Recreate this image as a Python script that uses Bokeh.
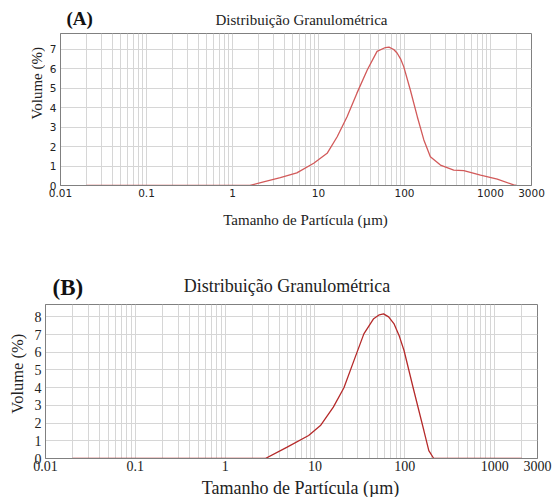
import math
from bokeh.plotting import figure
from bokeh.layouts import column, row
from bokeh.models import Range1d, FixedTicker, Label
from bokeh.embed import file_html
from bokeh.resources import INLINE

# Particle size distribution, sample A (size in µm, volume in %)
size_a = [0.02, 1.6, 2.3, 3.6, 5.6, 8.8, 12.6, 16.5, 21.5, 28, 37, 48, 60, 66,
          75, 82, 90, 98, 117, 141, 168, 200, 262, 374, 490, 766, 1200, 1860, 2000]
vol_a = [0, 0, 0.19, 0.4, 0.65, 1.14, 1.65, 2.5, 3.53, 4.74, 5.94, 6.88, 7.08, 7.1,
         6.98, 6.8, 6.5, 6.1, 4.9, 3.53, 2.34, 1.48, 1.05, 0.79, 0.76, 0.53, 0.33,
         0.03, 0]

# Particle size distribution, sample B
size_b = [0.02, 2.8, 4.9, 8.5, 11.5, 16, 21, 27, 35, 45, 52, 58, 66, 76, 87, 98,
          126, 163, 185, 210, 2000]
vol_b = [0, 0, 0.64, 1.3, 1.86, 2.9, 4.0, 5.5, 7.04, 7.9, 8.12, 8.17, 8.0, 7.6,
         6.9, 6.1, 3.84, 1.58, 0.45, 0, 0]

x_ticks = [0.01, 0.1, 1, 10, 100, 1000, 3000]
x_tick_labels = ["0.01", "0.1", "1", "10", "100", "1000", "3000"]
x_minor = [m * 10.0 ** e for e in range(-2, 3) for m in range(2, 10)] + [2000]

title_text = "Distribuição Granulométrica"
x_title = "Tamanho de Partícula (µm)"
y_title = "Volume (%)"

SERIF = "Liberation Serif"
GRID = "#d6d6d6"
FRAME = "#808080"


def text_strip(width, height, items):
    """A blank strip whose frame is the whole canvas, holding free text."""
    p = figure(width=width, height=height, x_range=Range1d(0, width),
               y_range=Range1d(height, 0), x_axis_location=None,
               y_axis_location=None, output_backend="svg",
               toolbar_location=None, min_border=0)
    p.outline_line_color = None
    p.grid.visible = False
    for x, y, text, size, align, bold, angle in items:
        p.add_layout(Label(x=x, y=y, text=text, text_font=SERIF,
                           text_font_size=size,
                           text_font_style="bold" if bold else "normal",
                           text_align=align, text_baseline="middle",
                           angle=angle,
                           text_color="#111111" if bold else "#222222"))
    return p


def chart(sizes, vols, ymax, yticks, width, height, borders, tick_font,
          tick_size, x_standoff, line_color):
    left, right, top, bottom = borders
    p = figure(width=width, height=height, x_axis_type="log",
               x_range=Range1d(0.01, 3000), y_range=Range1d(0, ymax),
               output_backend="svg", toolbar_location=None,
               min_border_left=left, min_border_right=right,
               min_border_top=top, min_border_bottom=bottom)
    p.outline_line_color = FRAME

    p.xaxis.ticker = FixedTicker(ticks=x_ticks, minor_ticks=x_minor)
    p.xaxis.major_label_overrides = {t: s for t, s in zip(x_ticks, x_tick_labels)}
    p.yaxis.ticker = FixedTicker(ticks=yticks)
    for ax in (p.xaxis, p.yaxis):
        ax.axis_line_color = FRAME
        ax.major_tick_line_color = None
        ax.minor_tick_line_color = None
        ax.major_tick_out = 0
        ax.major_tick_in = 0
        ax.minor_tick_out = 0
        ax.minor_tick_in = 0
        ax.major_label_text_font = tick_font
        ax.major_label_text_font_size = tick_size
        ax.major_label_text_color = "#222222"
    p.xaxis.major_label_standoff = x_standoff
    p.yaxis.major_label_standoff = 4

    p.xgrid.grid_line_color = GRID
    p.xgrid.minor_grid_line_color = GRID
    p.ygrid.grid_line_color = GRID

    p.line(sizes, vols, line_color=line_color, line_width=1.3)
    return p


# ---- Panel A ----
head_a = text_strip(555, 30, [
    (66, 18, "(A)", "19px", "left", True, 0.0),
    (301, 19.5, title_text, "15px", "center", False, 0.0),
])
side_a = text_strip(45, 177, [
    (36.7, 58, y_title, "15px", "center", False, math.pi / 2),
])
plot_a = chart(size_a, vol_a, 7.8, list(range(0, 8)), 510, 177, (15, 24, 3, 22),
               "DejaVu Sans", "10.5px", 3, "#d25a5a")
foot_a = text_strip(555, 38, [
    (305, 12, x_title, "15px", "center", False, 0.0),
])

# ---- Panel B ----
head_b = text_strip(555, 55, [
    (52, 42, "(B)", "23px", "left", True, 0.0),
    (286.5, 40, title_text, "18px", "center", False, 0.0),
])
side_b = text_strip(28, 178, [
    (16.7, 80, y_title, "16.5px", "center", False, math.pi / 2),
])
plot_b = chart(size_b, vol_b, 8.7, list(range(0, 9)), 527, 178, (17, 18, 4, 20),
               SERIF, "14px", 2, "#b52a2a")
foot_b = text_strip(555, 19, [
    (300, 9, x_title, "18px", "center", False, 0.0),
])

layout = column(head_a, row(side_a, plot_a, spacing=0), foot_a,
                head_b, row(side_b, plot_b, spacing=0), foot_b, spacing=0)

open("out.html", "w").write(file_html(layout, INLINE))
